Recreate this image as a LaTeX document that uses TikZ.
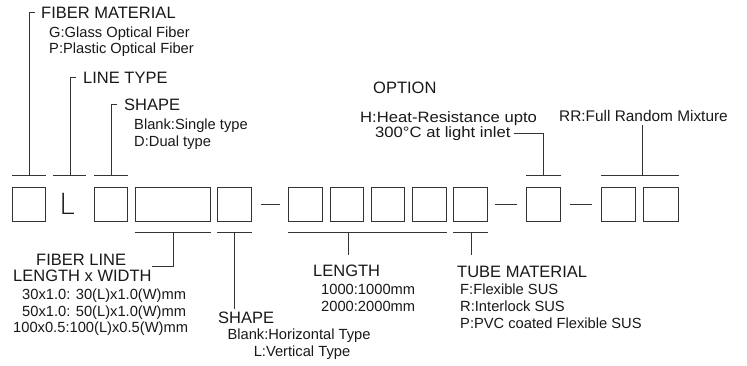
\documentclass[tikz,border=0pt]{standalone}
\usepackage{fontspec}
\setmainfont{Liberation Sans}
\newfontfamily\lightfont{Lato Light}
\newfontfamily\widefont[FakeStretch=1.11]{Liberation Sans}
\definecolor{txt}{gray}{0.1}
\definecolor{linec}{gray}{0.2}
\begin{document}
\begin{tikzpicture}[x=1pt,y=-1pt,
  box/.style={draw=linec, line width=1pt, inner sep=0pt, minimum width=34pt, minimum height=34pt, anchor=north west},
  big/.style={font=\fontsize{16.5}{18}\selectfont, text=txt, inner sep=0pt, anchor=base west},
  small/.style={font=\fontsize{14.7}{16}\selectfont, text=txt, inner sep=0pt, anchor=base west},
  optsmall/.style={small, font=\widefont\fontsize{15}{16}\selectfont},
  conn/.style={draw=linec, line width=1pt}]
\useasboundingbox[fill=white] (0,0) rectangle (747,365);

% code boxes
\node[box, minimum width=33pt] (b1) at (12,187) {};
\node[font=\lightfont\fontsize{30}{32}\selectfont, text=txt, inner sep=0pt] (L) at (67,204) {L};
\coordinate (lbw) at (53,175);
\coordinate (lbe) at (86,175);
\coordinate (lbm) at (70,175);
\node[box, minimum width=33pt] (b3) at (94,187) {};
\node[box, minimum width=75pt] (b4) at (135,187) {};
\node[box] (b5) at (217,187) {};
\node[box] (b6) at (288,187) {};
\node[box, minimum width=33pt] (b7) at (330,187) {};
\node[box, minimum width=33pt] (b8) at (371,187) {};
\node[box] (b9) at (412,187) {};
\node[box] (b10) at (453,187) {};
\node[box] (b11) at (526,187) {};
\node[box] (b12) at (601,187) {};
\node[box, minimum width=35pt] (b13) at (643,187) {};

% dashes
\draw[conn] ([xshift=9pt]b5.east) -- ([xshift=-8pt]b6.west);
\draw[conn] ([xshift=7pt]b10.east) -- ([xshift=-9pt]b11.west);
\draw[conn] ([xshift=9pt]b11.east) -- ([xshift=-9pt]b12.west);

% top labels
\node[big] (fm) at (41,18) {FIBER MATERIAL};
\node[small] (fm1) at (49,37) {G:Glass Optical Fiber};
\node[small] (fm2) at (49,53) {P:Plastic Optical Fiber};
\node[big] (lt) at (83,83) {LINE TYPE};
\node[big] (sh) at (124,110) {SHAPE};
\node[small] (sh1) at (134,129) {Blank:Single type};
\node[small] (sh2) at (134,146) {D:Dual type};
\node[big] (op) at (373,93) {OPTION};
\node[optsmall] (op1) at (360,122) {H:Heat-Resistance upto};
\node[optsmall] (op2) at (375,137) {300°C at light inlet};
\node[small, font=\fontsize{15.4}{16}\selectfont] (rr) at (559,121) {RR:Full Random Mixture};

% top connectors
\draw[conn] ([yshift=12pt]b1.north west) -- ([yshift=12pt]b1.north east);
\draw[conn] ([yshift=12pt]b1.north) |- ([xshift=-6pt]fm.west);
\draw[conn] (lbw) -- (lbe);
\draw[conn] (lbm) |- ([xshift=-7pt]lt.west);
\draw[conn] ([yshift=12pt]b3.north west) -- ([yshift=12pt]b3.north east);
\draw[conn] ([yshift=12pt]b3.north) |- ([xshift=-7pt]sh.west);
\draw[conn] ([xshift=3pt]op2.east) -| ([yshift=12pt]b11.north);
\draw[conn] ([yshift=12pt]b11.north west) -- ([yshift=12pt]b11.north east);
\draw[conn] ([yshift=12pt]b12.north west) -- ([yshift=12pt]b13.north east);
\draw[conn] ([xshift=6pt,yshift=12pt]b12.north east) -- ([xshift=6pt,yshift=-4pt]b12.north east |- rr.south);

% bottom labels
\node[big] (fl1) at (36,265) {FIBER LINE};
\node[big] (fl2) at (13,281) {LENGTH x WIDTH};
\node[small] (fl3) at (22,299) {30x1.0: 30(L)x1.0(W)mm};
\node[small] (fl4) at (22,316) {50x1.0: 50(L)x1.0(W)mm};
\node[small] (fl5) at (13,332) {100x0.5:100(L)x0.5(W)mm};
\node[big] (s2) at (218,323) {SHAPE};
\node[small, anchor=base] (s21) at (299,339) {Blank:Horizontal Type};
\node[small, anchor=base] (s22) at (302,356) {L:Vertical Type};
\node[big] (len) at (313,276) {LENGTH};
\node[small] (len1) at (321,294) {1000:1000mm};
\node[small] (len2) at (321,311) {2000:2000mm};
\node[big] (tm) at (457,277) {TUBE MATERIAL};
\node[small] (tm1) at (460,294) {F:Flexible SUS};
\node[small] (tm2) at (460,311) {R:Interlock SUS};
\node[small] (tm3) at (460,328) {P:PVC coated Flexible SUS};

% bottom connectors
\draw[conn] ([yshift=-10pt]b4.south west) -- ([yshift=-10pt]b4.south east);
\draw[conn] ([yshift=-10pt]b4.south) |- ([yshift=3pt]fl2.north east);
\draw[conn] ([yshift=-10pt]b5.south west) -- ([yshift=-10pt]b5.south east);
\draw[conn] ([yshift=-10pt]b5.south) -- ([yshift=2pt]b5.south |- s2.north);
\draw[conn] ([yshift=-10pt]b6.south west) -- ([yshift=-10pt]b9.south east);
\draw[conn] ([xshift=1pt,yshift=-10pt]b7.south) -- ([xshift=1pt,yshift=9pt]b7.south |- len.north);
\draw[conn] ([yshift=-10pt]b10.south west) -- ([yshift=-10pt]b10.south east);
\draw[conn] ([xshift=1pt,yshift=-10pt]b10.south) -- ([xshift=1pt,yshift=10pt]b10.south |- tm.north);
\end{tikzpicture}
\end{document}
